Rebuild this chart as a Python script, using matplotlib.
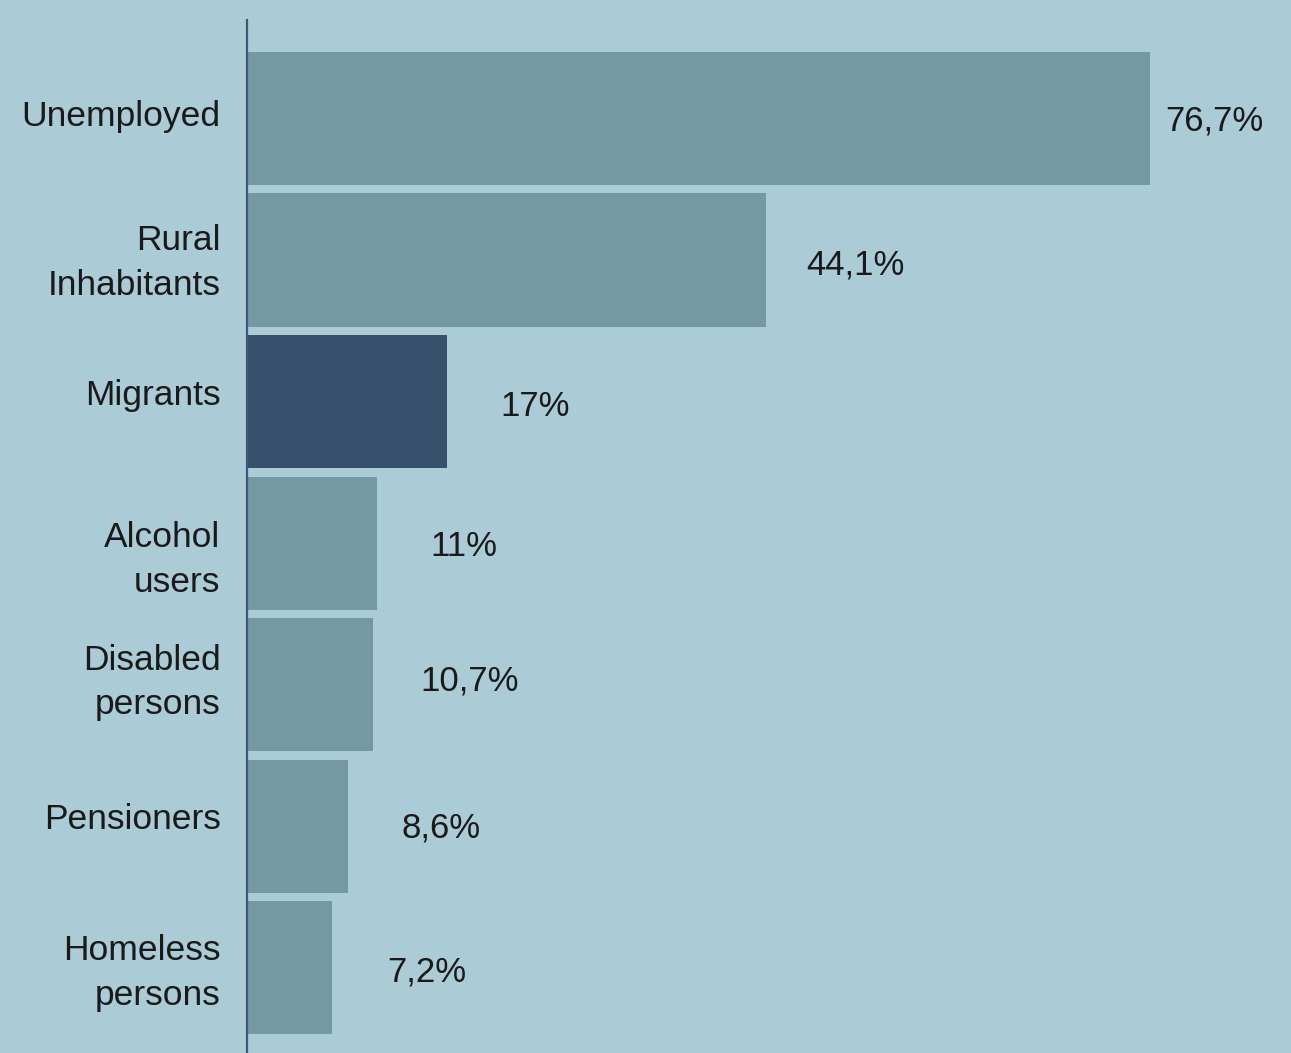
import matplotlib
matplotlib.use("Agg")
import matplotlib.pyplot as plt

categories = ["Unemployed", "Rural\nInhabitants", "Migrants", "Alcohol\nusers",
              "Disabled\npersons", "Pensioners", "Homeless\npersons"]
values = [76.7, 44.1, 17, 11, 10.7, 8.6, 7.2]
value_labels = ["76,7%", "44,1%", "17%", "11%", "10,7%", "8,6%", "7,2%"]

bg = "#abcbd7"
bar_color = "#7599a2"
highlight = "#37506b"
text_color = "#1a1a1a"
colors = [highlight if c == "Migrants" else bar_color for c in categories]

# style offsets (points) of the text baselines (last line) relative to bar ends / centres
value_dx = [11, 29, 38, 39, 34, 38, 40]
value_dy = [-8.3, -10.8, -10.4, -9.4, -4.3, -8.6, -10.0]
cat_dy = [-5.4, -25.2, -2.5, -35.0, -21.4, -2.2, -27.0]

plt.rcParams['font.family'] = ['Liberation Sans', 'DejaVu Sans']

fig = plt.figure(figsize=(12.91, 10.53), dpi=100, facecolor=bg)
ax = fig.add_axes([247 / 1291, 0.0, 1 - 247 / 1291, 1 - 20 / 1053])
ax.set_facecolor(bg)

ypos = list(range(len(categories)))
ax.barh(ypos, values, height=0.94, color=colors, edgecolor="none")

for y, v, lab, dx, dy in zip(ypos, values, value_labels, value_dx, value_dy):
    ax.annotate(lab, xy=(v, y), xytext=(dx, dy), textcoords="offset points",
                ha="left", va="baseline", fontsize=25, color=text_color,
                annotation_clip=False)

for y, cat, dy in zip(ypos, categories, cat_dy):
    ax.annotate(cat, xy=(0, y), xytext=(-19, dy), textcoords="offset points",
                ha="right", va="baseline", multialignment="right",
                fontsize=25.5, color=text_color, linespacing=1.45,
                annotation_clip=False)

ax.set_xlim(0, (1291 - 247) / ((1150 - 247) / 76.7))
ax.set_ylim(6.604, -0.696)
ax.set_yticks([])
ax.set_xticks([])
for s in ["top", "right", "bottom"]:
    ax.spines[s].set_visible(False)
ax.spines["left"].set_color("#3f5878")
ax.spines["left"].set_linewidth(1.6)

fig.savefig("out.png", dpi=100, facecolor=bg)
